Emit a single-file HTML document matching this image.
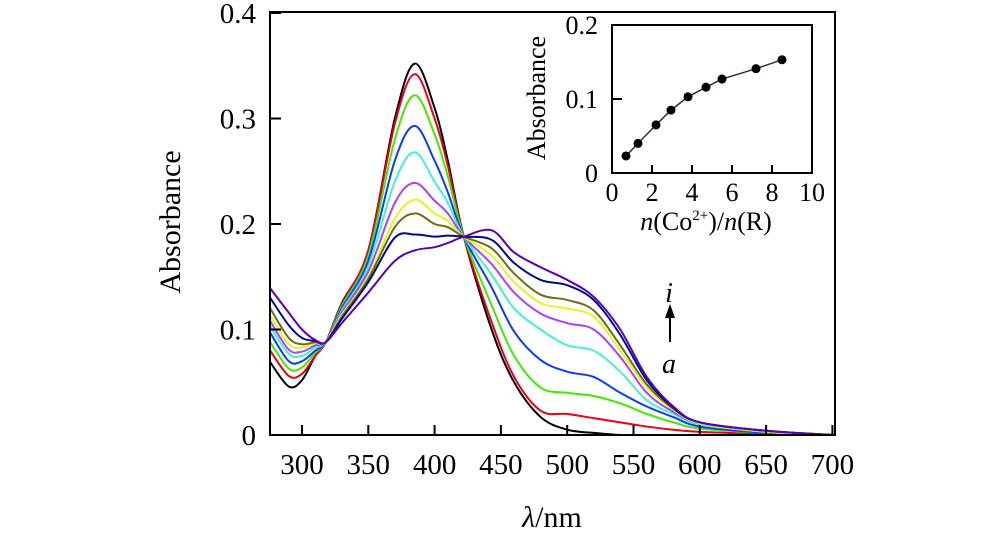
<!DOCTYPE html>
<html><head><meta charset="utf-8"><style>
html,body{margin:0;padding:0;background:#fff;}
svg{display:block;font-family:"Liberation Serif",serif;}
</style></head><body>
<svg id="chart" width="1000" height="553" viewBox="0 0 1000 553" xmlns="http://www.w3.org/2000/svg">
<g id="main"></g>
<g id="inset"></g>
</svg>
<script>
const wl=[276,290,300,310,318,330,350,370,385,400,410,422,443,460,480,500,520,540,560,580,600,650,700];
const seriesColors=["#000000","#e8001c","#44e800","#0a3cff","#3ff2d6","#b040ff","#e5f22a","#6a7012","#000a8a","#5a00b8"];
const s0=[0.069,0.046,0.052,0.075,0.088,0.125,0.175,0.300,0.352,0.310,0.260,0.188,0.100,0.050,0.017,0.005,0.002,0.000,0.000,0.000,0.000,0.000,0.000];
const s1=[0.080,0.056,0.058,0.075,0.088,0.124,0.175,0.295,0.342,0.300,0.255,0.188,0.107,0.055,0.023,0.020,0.016,0.012,0.008,0.005,0.003,0.001,0.000];
const s2=[0.088,0.063,0.064,0.078,0.088,0.122,0.170,0.280,0.322,0.285,0.245,0.188,0.123,0.075,0.045,0.040,0.037,0.030,0.020,0.012,0.006,0.002,0.000];
const s3=[0.097,0.070,0.070,0.080,0.088,0.120,0.165,0.260,0.293,0.260,0.230,0.188,0.140,0.098,0.071,0.060,0.055,0.040,0.027,0.017,0.008,0.002,0.000];
const s4=[0.103,0.077,0.075,0.083,0.088,0.118,0.160,0.240,0.268,0.240,0.220,0.188,0.152,0.120,0.100,0.085,0.080,0.060,0.033,0.020,0.010,0.003,0.000];
const s5=[0.108,0.081,0.079,0.085,0.088,0.116,0.155,0.220,0.239,0.222,0.210,0.188,0.162,0.135,0.115,0.106,0.100,0.074,0.040,0.022,0.011,0.003,0.000];
const s6=[0.113,0.086,0.083,0.087,0.088,0.114,0.150,0.205,0.223,0.210,0.203,0.188,0.170,0.145,0.125,0.120,0.112,0.080,0.045,0.024,0.011,0.003,0.000];
const s7=[0.120,0.092,0.086,0.088,0.088,0.112,0.148,0.197,0.210,0.200,0.197,0.188,0.177,0.153,0.133,0.128,0.118,0.085,0.048,0.025,0.012,0.004,0.000];
const s8=[0.130,0.104,0.092,0.089,0.088,0.110,0.145,0.187,0.190,0.188,0.189,0.188,0.185,0.163,0.147,0.142,0.128,0.095,0.052,0.026,0.012,0.004,0.000];
const s9=[0.139,0.116,0.100,0.090,0.088,0.106,0.135,0.165,0.175,0.178,0.182,0.188,0.194,0.173,0.159,0.147,0.131,0.100,0.055,0.027,0.012,0.004,0.000];
const allSeries=[s0,s1,s2,s3,s4,s5,s6,s7,s8,s9];
const xTicks=[300,350,400,450,500,550,600,650,700];
const yTicks=[0,0.1,0.2,0.3,0.4];
const yTickLabels=["0","0.1","0.2","0.3","0.4"];
const insetX=[0.7,1.3,2.2,2.95,3.8,4.7,5.5,7.2,8.5];
const insetY=[0.023,0.040,0.065,0.085,0.103,0.116,0.127,0.141,0.153];
const insetXTicks=[0,2,4,6,8,10];
const insetYTicks=[0,0.1,0.2];
const insetYTickLabels=["0","0.1","0.2"];

const NS="http://www.w3.org/2000/svg";
function mk(parent,tag,attrs,text){const e=document.createElementNS(NS,tag);for(const k in attrs)e.setAttribute(k,attrs[k]);if(text!==undefined)e.textContent=text;parent.appendChild(e);return e;}
const X=v=>302+(v-300)*66.3/50;
const Y=v=>435-v*1055;
const main=document.getElementById('main');
function spline(pts){let d=`M${pts[0][0]},${pts[0][1]}`;for(let i=0;i<pts.length-1;i++){const p0=pts[Math.max(i-1,0)],p1=pts[i],p2=pts[i+1],p3=pts[Math.min(i+2,pts.length-1)];const c1x=p1[0]+(p2[0]-p0[0])/6,c1y=p1[1]+(p2[1]-p0[1])/6,c2x=p2[0]-(p3[0]-p1[0])/6,c2y=p2[1]-(p3[1]-p1[1])/6;d+=` C${c1x},${c1y} ${c2x},${c2y} ${p2[0]},${p2[1]}`;}return d;}
const clip=mk(main,'clipPath',{id:'mc'});mk(clip,'rect',{x:270,y:12,width:565,height:423});
allSeries.forEach((s,i)=>{
  const pts=wl.map((w,j)=>[X(w),Y(s[j])]);
  const p=mk(main,'path',{d:spline(pts),fill:'none',stroke:seriesColors[i],'stroke-width':2,'clip-path':'url(#mc)'});
  
  
});
const fr=mk(main,'rect',{x:270,y:12,width:565,height:423,fill:'none',stroke:'#000','stroke-width':2});

xTicks.forEach(t=>{
  mk(main,'line',{x1:X(t),x2:X(t),y1:435,y2:425,stroke:'#000','stroke-width':2});
  const tl=mk(main,'text',{x:X(t),y:474,'font-size':29,'text-anchor':'middle'},String(t));
  
});
yTicks.forEach((t,i)=>{
  mk(main,'line',{x1:270,x2:281,y1:Y(t),y2:Y(t),stroke:'#000','stroke-width':2});
  const tl=mk(main,'text',{x:256,y:Y(t)+10,'font-size':29,'text-anchor':'end'},yTickLabels[i]);
  
});
const yt=mk(main,'text',{x:0,y:0,'font-size':30,'text-anchor':'middle',transform:'translate(180,222) rotate(-90)'},'Absorbance');

const xt=mk(main,'text',{x:552,y:527,'font-size':30,'text-anchor':'middle'});

mk(xt,'tspan',{'font-style':'italic'},'λ');mk(xt,'tspan',{},'/nm');
const li=mk(main,'text',{x:669,y:302,'font-size':28,'font-style':'italic','text-anchor':'middle'},'i');

const ar=mk(main,'line',{x1:670,x2:670,y1:342,y2:312,stroke:'#000','stroke-width':2});

mk(main,'polygon',{points:'670,304 665,318 675,318',fill:'#000'});
const la=mk(main,'text',{x:669,y:373,'font-size':28,'font-style':'italic','text-anchor':'middle'},'a');


const inset=document.getElementById('inset');
const IX=v=>612+v*20;
const IY=v=>173-v*740;
const ifr=mk(inset,'rect',{x:612,y:25,width:200,height:148,fill:'none',stroke:'#000','stroke-width':2});

insetXTicks.forEach(t=>{
  if(t>0&&t<10)mk(inset,'line',{x1:IX(t),x2:IX(t),y1:173,y2:165,stroke:'#000','stroke-width':2});
  const tl=mk(inset,'text',{x:IX(t),y:201,'font-size':26,'text-anchor':'middle'},String(t));
  
});
insetYTicks.forEach((t,i)=>{
  if(t>0&&t<0.2)mk(inset,'line',{x1:612,x2:622,y1:IY(t),y2:IY(t),stroke:'#000','stroke-width':2});
  const tl=mk(inset,'text',{x:598,y:IY(t)+9,'font-size':26,'text-anchor':'end'},insetYTickLabels[i]);
  
});
const iyt=mk(inset,'text',{x:0,y:0,'font-size':26,'text-anchor':'middle',transform:'translate(545,98) rotate(-90)'},'Absorbance');

const ixt=mk(inset,'text',{x:706,y:230,'font-size':26,'text-anchor':'middle'});

mk(ixt,'tspan',{'font-style':'italic'},'n');mk(ixt,'tspan',{},'(Co');mk(ixt,'tspan',{'font-size':15,dy:-10},'2+');mk(ixt,'tspan',{dy:10},')/');mk(ixt,'tspan',{'font-style':'italic'},'n');mk(ixt,'tspan',{},'(R)');
const il=mk(inset,'polyline',{points:insetX.map((x,i)=>IX(x)+','+IY(insetY[i])).join(' '),fill:'none',stroke:'#1a3a3a','stroke-width':1.5});

insetX.forEach((x,i)=>{
  const c=mk(inset,'circle',{cx:IX(x),cy:IY(insetY[i]),r:4.5,fill:'#000'});
  
  
});
</script>
</body></html>
